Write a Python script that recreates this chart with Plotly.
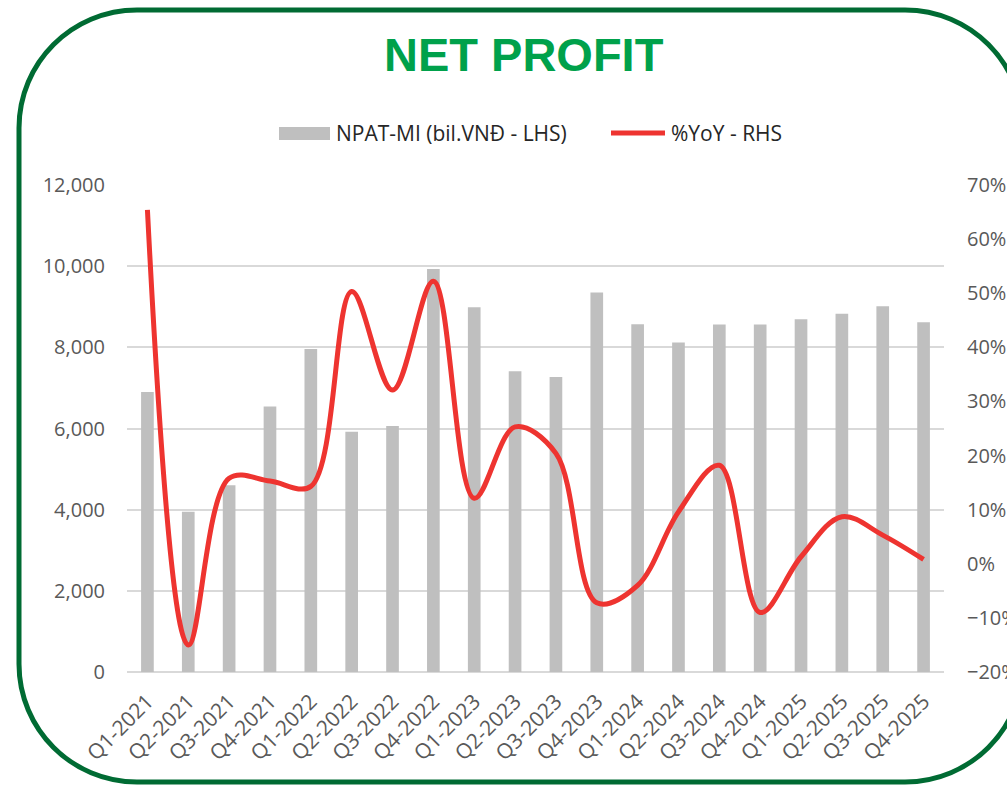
import plotly.graph_objects as go

# ---------------- data ----------------
quarters = ["Q1-2021", "Q2-2021", "Q3-2021", "Q4-2021",
            "Q1-2022", "Q2-2022", "Q3-2022", "Q4-2022",
            "Q1-2023", "Q2-2023", "Q3-2023", "Q4-2023",
            "Q1-2024", "Q2-2024", "Q3-2024", "Q4-2024",
            "Q1-2025", "Q2-2025", "Q3-2025", "Q4-2025"]
npat_mi = [6900, 3950, 4600, 6540, 7960, 5920, 6060, 9930, 8990, 7410,
           7270, 9350, 8570, 8120, 8560, 8560, 8690, 8830, 9010, 8620]
yoy_pct = [0.654, -0.150, 0.158, 0.153, 0.143, 0.503, 0.321, 0.522, 0.121, 0.253,
           0.204, -0.072, -0.040, 0.096, 0.182, -0.090, 0.013, 0.087, 0.053, 0.008]
bar_name = "NPAT-MI (bil.VNĐ - LHS)"
line_name = "%YoY - RHS"
title_text = "NET PROFIT"

# ---------------- layout geometry (pixels, page coordinates) ----------------
W, H = 1007, 787
PL, PR, PT, PB = 127, 944, 185, 672   # plot area in page pixels
PW, PH = PR - PL, PB - PT


def px(x):
    return (x - PL) / PW


def py(y):
    return (PB - y) / PH


FONT = "Open Sans, Liberation Sans, sans-serif"
TICK_COLOR = "#595959"
BAR_COLOR = "#BFBFBF"
LINE_COLOR = "#EE3430"
GRID_COLOR = "#D9D9D9"

fig = go.Figure()
fig.add_trace(go.Bar(x=quarters, y=npat_mi, name=bar_name,
                     marker=dict(color=BAR_COLOR, line=dict(width=0)),
                     yaxis="y"))
fig.add_trace(go.Scatter(x=quarters, y=yoy_pct, name=line_name, mode="lines",
                         line=dict(color=LINE_COLOR, width=5, shape="spline", smoothing=1.0),
                         yaxis="y2"))

# rounded green border
x0, y0, x1, y1, r = 19, 10, 1023, 782, 118
k = 0.5523 * r
path = (
    f"M {px(x0 + r)} {py(y0)} L {px(x1 - r)} {py(y0)} "
    f"C {px(x1 - r + k)} {py(y0)} {px(x1)} {py(y0 + r - k)} {px(x1)} {py(y0 + r)} "
    f"L {px(x1)} {py(y1 - r)} "
    f"C {px(x1)} {py(y1 - r + k)} {px(x1 - r + k)} {py(y1)} {px(x1 - r)} {py(y1)} "
    f"L {px(x0 + r)} {py(y1)} "
    f"C {px(x0 + r - k)} {py(y1)} {px(x0)} {py(y1 - r + k)} {px(x0)} {py(y1 - r)} "
    f"L {px(x0)} {py(y0 + r)} "
    f"C {px(x0)} {py(y0 + r - k)} {px(x0 + r - k)} {py(y0)} {px(x0 + r)} {py(y0)} Z"
)
shapes = [
    dict(type="path", xref="paper", yref="paper", path=path,
         line=dict(color="#006B33", width=5), fillcolor="rgba(0,0,0,0)", layer="below"),
    # legend swatches
    dict(type="rect", xref="paper", yref="paper",
         x0=px(279), x1=px(330), y0=py(140), y1=py(127),
         fillcolor=BAR_COLOR, line=dict(width=0)),
    dict(type="line", xref="paper", yref="paper",
         x0=px(611), x1=px(665), y0=py(133), y1=py(133),
         line=dict(color=LINE_COLOR, width=5)),
]

annotations = [
    dict(text=f"<b>{title_text}</b>", xref="paper", yref="paper",
         x=px(524), y=py(55), xanchor="center", yanchor="middle", showarrow=False,
         font=dict(family="Liberation Sans, Arial, sans-serif", size=47, color="#00A14B")),
    dict(text=bar_name, xref="paper", yref="paper", x=px(334), y=py(133),
         xanchor="left", yanchor="middle", showarrow=False,
         font=dict(family=FONT, size=21, color="#262626")),
    dict(text=line_name, xref="paper", yref="paper", x=px(669), y=py(133),
         xanchor="left", yanchor="middle", showarrow=False,
         font=dict(family=FONT, size=21, color="#262626")),
]

fig.update_layout(
    width=W, height=H,
    margin=dict(l=PL, r=W - PR, t=PT, b=H - PB, autoexpand=False),
    paper_bgcolor="white", plot_bgcolor="white",
    showlegend=False,
    bargap=0.69,
    font=dict(family=FONT, size=20, color=TICK_COLOR),
    shapes=shapes,
    annotations=annotations,
    xaxis=dict(tickangle=-45, showgrid=False, showline=False, ticks="",
               ticklabelstandoff=12,
               tickfont=dict(size=21, color=TICK_COLOR)),
    yaxis=dict(range=[0, 12000], dtick=2000, tickformat=",", showgrid=True,
               gridcolor=GRID_COLOR, gridwidth=1.5, zeroline=True,
               zerolinecolor=GRID_COLOR, zerolinewidth=1.5, showline=False,
               ticks="", ticklabelstandoff=21,
               tickfont=dict(size=20, color=TICK_COLOR)),
    yaxis2=dict(range=[-0.2, 0.7], dtick=0.1, tickformat=".0%", overlaying="y",
                side="right", showgrid=False, zeroline=False, showline=False,
                ticks="", ticklabelstandoff=22,
                tickfont=dict(size=20, color=TICK_COLOR)),
)

fig.write_html(
    "out.html",
    config={"displayModeBar": False},
    post_script="document.body.style.margin='0px';document.body.style.overflow='hidden';",
)
